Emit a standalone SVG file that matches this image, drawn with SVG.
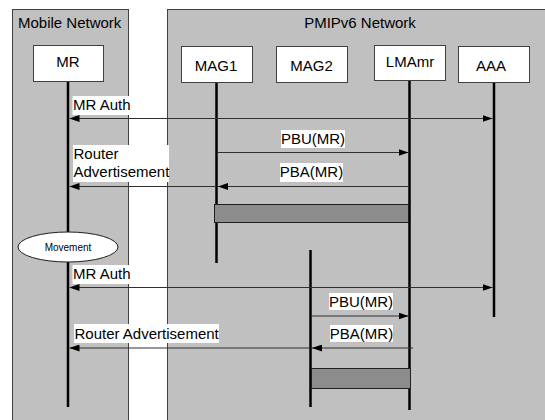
<svg xmlns="http://www.w3.org/2000/svg" width="545" height="420" viewBox="0 0 545 420">
<defs>
<style>
.frame{fill:#c0c0c0;stroke:#404040;stroke-width:1}
.box{fill:#fff;stroke:#404040;stroke-width:1}
.life{stroke:#000;stroke-width:2.5;fill:none}
.msg{stroke:#303030;stroke-width:1.2;fill:none}
.bar{fill:#8c8c8c;stroke:#202020;stroke-width:1}
.lbg{fill:#fff}
text{font-family:"Liberation Sans",Arial,sans-serif;font-size:15px;fill:#000}
.mid{text-anchor:middle}
.small{font-size:10px}
</style>
<marker id="ah" viewBox="0 0 10 7" refX="10" refY="3.5" markerWidth="10" markerHeight="7" markerUnits="userSpaceOnUse" orient="auto-start-reverse">
<path d="M0,0 L10,3.5 L0,7 Z" fill="#000"/>
</marker>
</defs>
<rect width="545" height="420" fill="#fff"/>
<g id="frames">
<rect class="frame" x="12.5" y="9.5" width="116" height="420"/>
<text x="18" y="28">Mobile Network</text>
<rect class="frame" x="167.5" y="9.5" width="390" height="420"/>
<text class="mid" x="360" y="28">PMIPv6 Network</text>
</g>
<g id="lifelines">
<line class="life" x1="68" y1="81" x2="68" y2="407"/>
<line class="life" x1="216.5" y1="82" x2="216.5" y2="263"/>
<line class="life" x1="310.5" y1="250" x2="310.5" y2="407"/>
<line class="life" x1="409.5" y1="80" x2="409.5" y2="410"/>
<line class="life" x1="494" y1="82" x2="494" y2="317"/>
</g>
<g id="MR"><rect class="box" x="33.5" y="45.5" width="70" height="36"/><text class="mid" x="68" y="67">MR</text></g>
<g id="MAG1"><rect class="box" x="181.5" y="46.5" width="71" height="36"/><text class="mid" x="216" y="71">MAG1</text></g>
<g id="MAG2"><rect class="box" x="276.5" y="46.5" width="71" height="36"/><text class="mid" x="311.5" y="71">MAG2</text></g>
<g id="LMAmr"><rect class="box" x="374.5" y="45.5" width="71" height="35"/><text class="mid" x="410" y="67">LMAmr</text></g>
<g id="AAA"><rect class="box" x="458.5" y="46.5" width="71" height="36"/><text class="mid" x="491" y="71">AAA</text></g>
<g id="bars">
<rect class="bar" x="214.5" y="204.5" width="194" height="18"/>
<rect class="bar" x="311.5" y="368.5" width="99" height="20"/>
</g>
<g id="movement">
<ellipse cx="68" cy="247" rx="50" ry="15" fill="#fff" stroke="#202020" stroke-width="1"/>
<text class="mid small" x="68" y="250.5">Movement</text>
</g>
<g id="connectors">
<line class="msg" x1="69.5" y1="118.5" x2="492.5" y2="118.5" marker-start="url(#ah)" marker-end="url(#ah)"/>
<line class="msg" x1="217.5" y1="152.5" x2="408.5" y2="152.5" marker-end="url(#ah)"/>
<line class="msg" x1="409" y1="186.5" x2="218" y2="186.5" marker-end="url(#ah)"/>
<line class="msg" x1="216" y1="186.5" x2="69.5" y2="186.5" marker-end="url(#ah)"/>
<line class="msg" x1="69.5" y1="287.5" x2="492.5" y2="287.5" marker-start="url(#ah)" marker-end="url(#ah)"/>
<line class="msg" x1="311.5" y1="316" x2="408.5" y2="316" marker-end="url(#ah)"/>
<line class="msg" x1="413" y1="348" x2="312" y2="348" marker-end="url(#ah)"/>
<line class="msg" x1="310" y1="348" x2="69.5" y2="348" marker-end="url(#ah)"/>
</g>
<g id="labels">
<rect class="lbg" x="72.5" y="96" width="59" height="19"/>
<text x="73" y="110">MR Auth</text>
<rect class="lbg" x="73" y="145" width="96" height="37"/>
<text x="73.5" y="158.5">Router</text>
<text x="73.5" y="177">Advertisement</text>
<rect class="lbg" x="281" y="130" width="64" height="18"/>
<text class="mid" x="313" y="143.5">PBU(MR)</text>
<rect class="lbg" x="280" y="163" width="63" height="19"/>
<text class="mid" x="311.5" y="177">PBA(MR)</text>
<rect class="lbg" x="72.5" y="265" width="59" height="19"/>
<text x="73" y="279">MR Auth</text>
<rect class="lbg" x="329" y="293" width="64" height="17"/>
<text class="mid" x="361" y="307">PBU(MR)</text>
<rect class="lbg" x="330" y="325" width="63" height="17"/>
<text class="mid" x="361.5" y="339">PBA(MR)</text>
<rect class="lbg" x="74" y="324" width="145" height="19"/>
<text x="74.5" y="339">Router Advertisement</text>
</g>
</svg>
